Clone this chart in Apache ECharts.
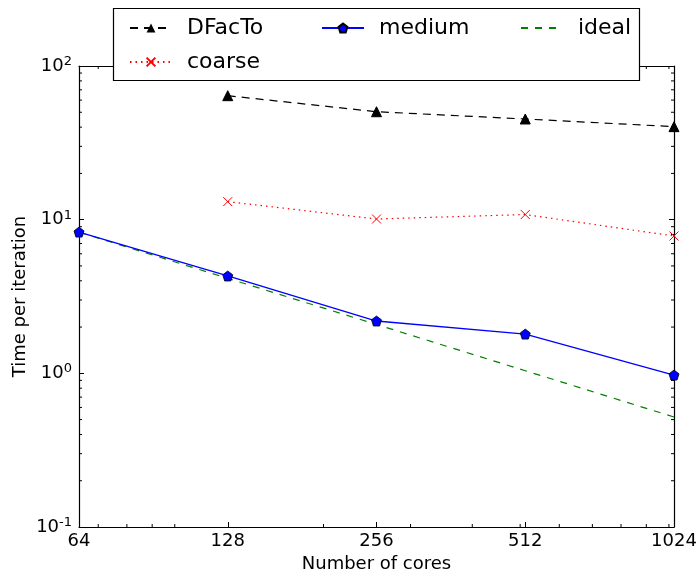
<!DOCTYPE html>
<html>
<head>
<meta charset="utf-8">
<script src="https://cdn.jsdelivr.net/npm/echarts@6/dist/echarts.min.js"></script>
<style>
  html, body { margin: 0; padding: 0; background: #fff; }
  #main { width: 700px; height: 574px; }
</style>
</head>
<body>
<div id="main"></div>
<script>
// values
var cores = [64, 128, 256, 512, 1024]
var dfacto = [null, 64.1, 50.4, 45.2, 40.3]
var coarse = [null, 13.1, 10.1, 10.8, 7.83]
var medium = [8.3, 4.3, 2.19, 1.8, 0.975]
var ideal = [8.3, 4.15, 2.08, 1.04, 0.52]
// minor ticks, as drawn in the picture
var xMinor = [70, 80, 90, 100, 200, 300, 400, 500, 600, 700, 800, 900, 1000]
var yMinor = [0.2, 0.3, 0.4, 0.5, 0.6, 0.7, 0.8, 0.9, 2, 3, 4, 5, 6, 7, 8, 9, 20, 30, 40, 50, 60, 70, 80, 90]

var FONT = 'DejaVu Sans'
var X0 = 64, X1 = 1024, Y0 = 0.1, Y1 = 100

function pairs(ys) {
  var out = []
  cores.forEach(function (c, i) {
    if (ys[i] != null) out.push([c, ys[i]])
  })
  return out
}

var pentagon = 'path://M50,0 L97.6,34.5 L79.4,90.5 L20.6,90.5 L2.4,34.5 Z'
var cross = 'path://M0,0 L10,10 M10,0 L0,10'

function tickLine(x1, y1, x2, y2) {
  return { type: 'line', shape: { x1: x1, y1: y1, x2: x2, y2: y2 }, style: { stroke: '#000', lineWidth: 1 } }
}

var myChart = echarts.init(document.getElementById('main'))

var baseAxis = {
  axisLine: { show: true, onZero: false, lineStyle: { color: '#000', width: 1.2 } },
  axisTick: { show: true, inside: true, length: 5, lineStyle: { color: '#000' } },
  splitLine: { show: false },
  minorTick: { show: false }
}

function legendAt(name, left, top, extra) {
  return Object.assign({
    data: [name],
    left: left,
    top: top,
    orient: 'horizontal',
    itemWidth: 42,
    itemHeight: 11,
    z: 60,
    selectedMode: false,
    textStyle: { fontFamily: FONT, fontSize: 22, color: '#000', padding: [0, 0, 0, 10] }
  }, extra || {})
}

var option = {
  animation: false,
  textStyle: { fontFamily: FONT },
  grid: { left: 79, right: 26, top: 66, bottom: 47, containLabel: false, outerBoundsMode: 'none' },
  graphic: [{
    type: 'rect',
    z: 50,
    shape: { x: 113.5, y: 8.5, width: 526, height: 72 },
    style: { fill: '#fff', stroke: '#000', lineWidth: 1.2 }
  }],
  legend: [
    legendAt('DFacTo', 124, 12),
    legendAt('medium', 316, 12),
    legendAt('ideal', 515, 12, { itemStyle: { opacity: 0 } }),
    legendAt('coarse', 124, 46)
  ],
  xAxis: [
    Object.assign({}, baseAxis, {
      type: 'log', logBase: 2, min: X0, max: X1, interval: 1,
      position: 'bottom',
      name: 'Number of cores', nameLocation: 'middle', nameGap: 28,
      nameTextStyle: { fontFamily: FONT, fontSize: 18, color: '#000' },
      axisLabel: {
        margin: 5, fontFamily: FONT, fontSize: 18, color: '#000',
        showMinLabel: true, showMaxLabel: true,
        formatter: function (v) { return String(Math.round(v)) }
      }
    }),
    Object.assign({}, baseAxis, {
      type: 'log', logBase: 2, min: X0, max: X1, interval: 1,
      position: 'top', axisLabel: { show: false }
    })
  ],
  yAxis: [
    Object.assign({}, baseAxis, {
      type: 'log', logBase: 10, min: Y0, max: Y1, interval: 1,
      position: 'left',
      name: 'Time per iteration', nameLocation: 'middle', nameGap: 50, nameRotate: 90,
      nameMoveOverlap: false,
      nameTextStyle: { fontFamily: FONT, fontSize: 18, color: '#000' },
      axisLabel: {
        margin: 7, fontFamily: FONT, color: '#000',
        showMinLabel: true, showMaxLabel: true,
        formatter: function (v) {
          var e = Math.round(Math.log10(v))
          return '{b|10}{s|' + e + '}'
        },
        rich: {
          b: { fontFamily: FONT, fontSize: 18, lineHeight: 22, color: '#000' },
          s: { fontFamily: FONT, fontSize: 13, lineHeight: 13, verticalAlign: 'top', color: '#000' }
        }
      }
    }),
    Object.assign({}, baseAxis, {
      type: 'log', logBase: 10, min: Y0, max: Y1, interval: 1,
      position: 'right', axisLabel: { show: false }
    })
  ],
  series: [
    {
      name: 'DFacTo', type: 'line', data: pairs(dfacto),
      symbol: 'triangle', symbolSize: 10,
      itemStyle: { color: '#000', borderColor: '#000' },
      lineStyle: { color: '#000', width: 1.2, type: [8, 6] },
      z: 5
    },
    {
      name: 'coarse', type: 'line', data: pairs(coarse),
      symbol: cross, symbolSize: 9,
      itemStyle: { color: 'none', borderColor: '#ff0000', borderWidth: 1 },
      lineStyle: { color: '#ff0000', width: 1.2, type: [1.5, 4] },
      z: 5
    },
    {
      name: 'medium', type: 'line', data: pairs(medium),
      symbol: pentagon, symbolSize: 10,
      itemStyle: { color: '#0000ff', borderColor: '#000', borderWidth: 0.8 },
      lineStyle: { color: '#0000ff', width: 1.3 },
      z: 6
    },
    {
      name: 'ideal', type: 'line', data: pairs(ideal),
      symbol: 'none',
      itemStyle: { color: '#008000' },
      lineStyle: { color: '#008000', width: 1.2, type: [7, 7] },
      z: 4
    },
    {
      // minor ticks on left and right frame
      type: 'custom', silent: true,
      data: yMinor.map(function (v) { return [X0, v] }),
      encode: { x: 0, y: 1 },
      renderItem: function (params, api) {
        var v = api.value(1)
        var l = api.coord([X0, v])
        var r = api.coord([X1, v])
        return { type: 'group', children: [
          tickLine(l[0], l[1], l[0] + 3, l[1]),
          tickLine(r[0], r[1], r[0] - 3, r[1])
        ] }
      }
    },
    {
      // minor ticks on top and bottom frame
      type: 'custom', silent: true,
      data: xMinor.map(function (v) { return [v, Y0] }),
      encode: { x: 0, y: 1 },
      renderItem: function (params, api) {
        var v = api.value(0)
        var b = api.coord([v, Y0])
        var t = api.coord([v, Y1])
        return { type: 'group', children: [
          tickLine(b[0], b[1], b[0], b[1] - 3),
          tickLine(t[0], t[1], t[0], t[1] + 3)
        ] }
      }
    }
  ]
}

myChart.setOption(option)
</script>
</body>
</html>
